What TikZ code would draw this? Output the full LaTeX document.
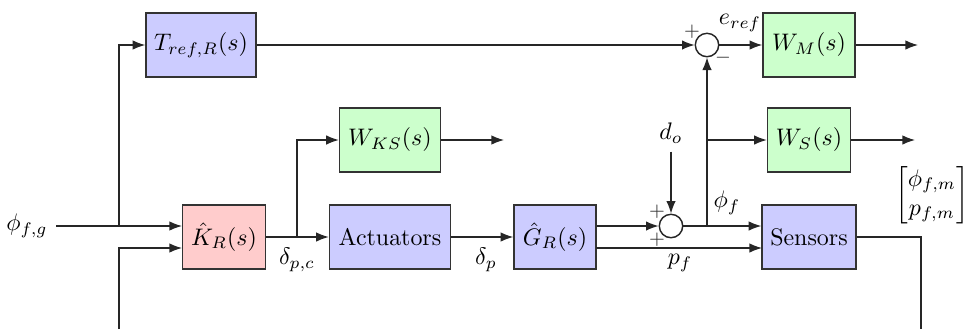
\documentclass[tikz,border=0pt]{standalone}
\usepackage{amsmath,amssymb}
\usepackage{xcolor}
\usepackage{tikz}
\usetikzlibrary{positioning,arrows.meta,calc}
\tikzset{
  sig/.style={-Latex, line width=0.5pt, draw=black!85},
  every node/.style={anchor=center}
}

\begin{document}
\begin{tikzpicture}[
  x=0.418pt, y=-0.418pt,
  block/.style={draw=black!80, line width=0.6pt, minimum height=26.75pt, inner sep=0pt, align=center},
  sumnode/.style={draw=black!85, circle, line width=0.6pt, minimum size=9.8pt, inner sep=0pt},
  sgn/.style={font=\footnotesize, inner sep=0pt, text=black!80}
]
\useasboundingbox (0,0) rectangle (966,329);
% blocks
\node[block, fill=blue!20, minimum width=46pt] (tref) at (201,45) {$T_{ref,R}(s)$};
\node[block, fill=green!20, minimum width=42.2pt] (wks) at (390,140) {$W_{KS}(s)$};
\node[block, fill=red!20, minimum width=34.7pt] (kr) at (224,237) {$\hat{K}_R(s)$};
\node[block, fill=blue!20, minimum width=50.6pt] (act) at (390,237) {Actuators};
\node[block, fill=blue!20, minimum width=34.3pt] (gr) at (555,237) {$\hat{G}_R(s)$};
\node[block, fill=blue!20, minimum width=39.3pt] (sens) at (809,237) {Sensors};
\node[block, fill=green!20, minimum width=38.5pt] (wm) at (809,45) {$W_M(s)$};
\node[block, fill=green!20, minimum width=34.7pt] (ws) at (809,140) {$W_S(s)$};
% summing junctions
\node[sumnode] (sumup) at (707,45) {};
\node[sumnode] (sumlo) at (671,226) {};
\node[sgn] at (692,32) {$+$};
\node[sgn] at (723,58) {$-$};
\node[sgn] at (657,212) {$+$};
\node[sgn] at (657,240) {$+$};
% signal labels
\node (phig) at (27,226) {$\phi_{f,g}$};
\node (dpc) at (297,260) {$\delta_{p,c}$};
\node (dp) at (486,260) {$\delta_p$};
\node (do) at (671,133) {$d_o$};
\node (phif) at (727,203) {$\phi_f$};
\node (pf) at (680,263) {$p_f$};
\node (eref) at (740,23) {$e_{ref}$};
\node (meas) at (932,195) {$\begin{bmatrix}\phi_{f,m}\\ p_{f,m}\end{bmatrix}$};
% points
\coordinate (kin1) at (182,226);
\coordinate (kin2) at (182,248);
\coordinate (br1) at (119,226);
\coordinate (fbin) at (119,329);
\coordinate (br2) at (297,237);
\coordinate (wksout) at (504,140);
\coordinate (gout2) at (596,248);
\coordinate (sin2) at (762,248);
\coordinate (br3) at (707,226);
\coordinate (br4) at (707,140);
\coordinate (wmout) at (918,45);
\coordinate (wsout) at (915,140);
\coordinate (sensout) at (921,329);
% connectors
\draw[sig] (phig.east) -- (kin1);
\draw[sig] (br1) |- (tref.west);
\draw[sig] (fbin) |- (kin2);
\draw[sig] (kr.east) -- (act.west);
\draw[sig] (br2) |- (wks.west);
\draw[sig] (wks.east) -- (wksout);
\draw[sig] (act.east) -- (gr.west);
\draw[sig] (gr.east |- sumlo.west) -- (sumlo.west);
\draw[sig] (gout2) -- (sin2);
\draw[sig] (do) -- (sumlo.north);
\draw[sig] (sumlo.east) -- (sens.west |- sumlo.east);
\draw[sig] (br3) -- (sumup.south);
\draw[sig] (br4) -- (ws.west);
\draw[sig] (tref.east) -- (sumup.west);
\draw[sig] (sumup.east) -- (wm.west);
\draw[sig] (wm.east) -- (wmout);
\draw[sig] (ws.east) -- (wsout);
\draw[line width=0.5pt, draw=black!85] (sens.east) -| (sensout);
\end{tikzpicture}
\end{document}
